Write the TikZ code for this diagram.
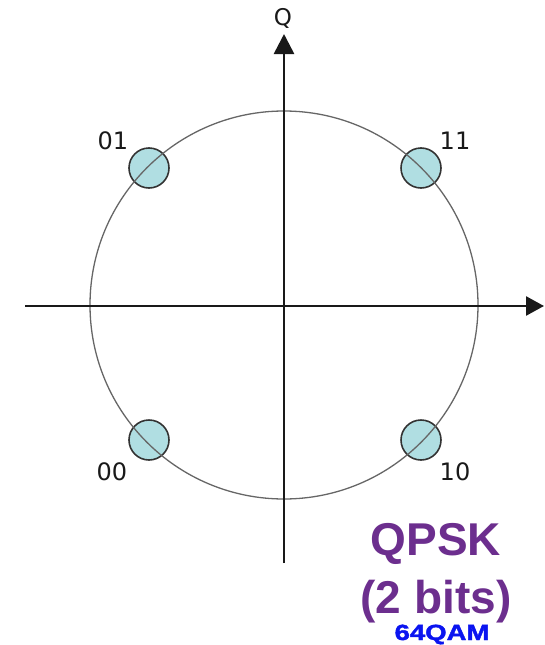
\documentclass[tikz,border=0pt]{standalone}
\usepackage{fontspec}
\setmainfont{DejaVu Sans}
\newfontfamily\arialfont{Liberation Sans}
\newfontfamily\qamfont[FakeBold=1.6]{Liberation Sans Bold}
\usepackage{tikz}
\usetikzlibrary{arrows.meta}
\definecolor{ptfill}{RGB}{176,222,226}
\definecolor{qpskpurple}{RGB}{108,46,142}
\definecolor{qamblue}{RGB}{10,20,240}

\begin{document}
\begin{tikzpicture}[x=1pt,y=-1pt]
    \useasboundingbox (0,0) rectangle (544,645);
    % constellation points
    \draw[fill=ptfill, draw=black!80, line width=1.6pt] (149,168) circle (20pt);
    \draw[fill=ptfill, draw=black!80, line width=1.6pt] (421,168) circle (20pt);
    \draw[fill=ptfill, draw=black!80, line width=1.6pt] (149,440) circle (20pt);
    \draw[fill=ptfill, draw=black!80, line width=1.6pt] (421,440) circle (20pt);
    \draw[black!60, line width=1.3pt] (284,305) circle (194pt);

    % axes
    \draw[black!90, line width=2.6pt, -{Triangle[length=18pt,width=19pt]}] (25,306) -- (544,306);
    \draw[black!90, line width=2.6pt, -{Triangle[length=20pt,width=20pt]}] (284,563) -- (284,34);

    \node[font=\fontsize{23}{23}\selectfont, black!90] (qlab) at (283,18) {Q};
    \node[font=\fontsize{24}{24}\selectfont, black!90] (lab01) at (113,141) {01};
    \node[font=\fontsize{24}{24}\selectfont, black!90] (lab11) at (455,141) {11};
    \node[font=\fontsize{24}{24}\selectfont, black!90] (lab00) at (112,472) {00};
    \node[font=\fontsize{24}{24}\selectfont, black!90] (lab10) at (455,472) {10};

    \node[anchor=base, font=\arialfont\bfseries\fontsize{46}{46}\selectfont, text=qpskpurple] (qpsk) at (436,555) {QPSK};
    \node[anchor=base, font=\arialfont\bfseries\fontsize{46}{46}\selectfont, text=qpskpurple] (bits) at (436,613) {(2 bits)};
    \node[anchor=base, xscale=1.25, font=\qamfont\fontsize{22}{22}\selectfont, text=qamblue] (qam) at (442,640) {64QAM};
\end{tikzpicture}
\end{document}
